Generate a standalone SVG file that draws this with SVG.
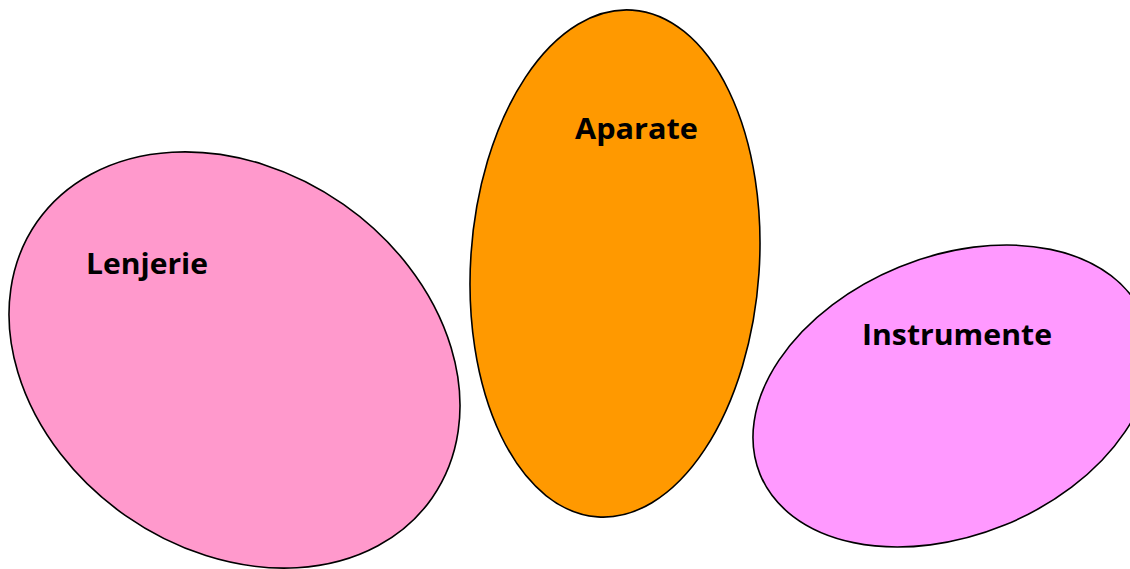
<svg xmlns="http://www.w3.org/2000/svg" width="1130" height="569" viewBox="0 0 1130 569">
<style>
.shape{stroke:#000;stroke-width:1.6}
.lbl{font-family:"Open Sans",Lato,"Liberation Sans",sans-serif;font-weight:bold;font-size:29px;fill:#000}
</style>
<rect width="1130" height="569" fill="#fff"/>
<g id="lenjerie">
<ellipse class="shape" cx="234.5" cy="360" rx="241" ry="190" transform="rotate(35 234.5 360)" fill="#FF99CC"/>
<text class="lbl" x="86" y="274" textLength="122" lengthAdjust="spacingAndGlyphs">Lenjerie</text>
</g>
<g id="aparate">
<ellipse class="shape" cx="615" cy="263.5" rx="144.3" ry="254" transform="rotate(3.9 615 263.5)" fill="#FF9900"/>
<text class="lbl" x="575" y="139" textLength="123" lengthAdjust="spacingAndGlyphs">Aparate</text>
</g>
<g id="instrumente">
<ellipse class="shape" cx="952" cy="396" rx="207.3" ry="139.4" transform="rotate(-22.2 952 396)" fill="#FF99FF"/>
<text class="lbl" x="862" y="345" textLength="190" lengthAdjust="spacingAndGlyphs">Instrumente</text>
</g>
<g id="connectors"/>
</svg>
